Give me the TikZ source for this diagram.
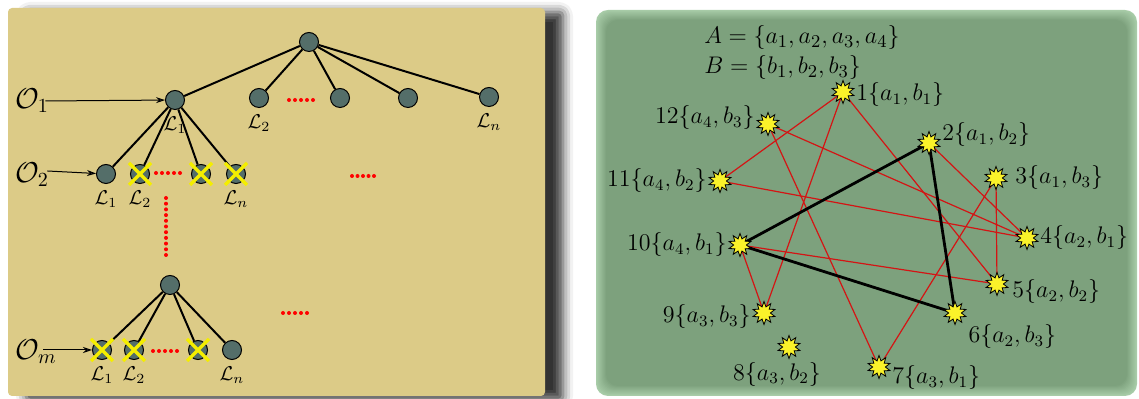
\documentclass[tikz,border=0pt]{standalone}
\usetikzlibrary{arrows.meta,shapes.geometric,shadows.blur,calc,backgrounds}
\definecolor{tanbg}{HTML}{DCCB87}
\definecolor{greenbg}{HTML}{7DA17D}
\definecolor{greenrim}{HTML}{A8CCA8}
\definecolor{nodefill}{HTML}{546E69}
\definecolor{linkred}{HTML}{D41414}
\definecolor{xyellow}{HTML}{F4EE00}
\definecolor{staryellow}{HTML}{FAF22A}
\pgfdeclarelayer{panel}
\pgfsetlayers{panel,background,main}

\begin{document}
\begin{tikzpicture}[
  x=0.5pt, y=-0.5pt,
  tnode/.style={circle, draw=black, line width=0.5pt, fill=nodefill,
                minimum size=9.5pt, inner sep=0pt},
  lname/.style={font=\normalsize, inner sep=1pt},
  xmark/.style={draw=xyellow, line width=1.6pt},
  tlink/.style={line width=1pt},
  olink/.style={-{Stealth[length=4.5pt,width=3pt]}, line width=0.5pt},
  oname/.style={font=\Large, inner sep=1pt},
  snode/.style={star, star points=10, star point ratio=1.8, minimum size=11.5pt,
                inner sep=0pt, fill=staryellow, draw=black, line width=0.4pt},
  slbl/.style={font=\large, inner sep=1pt},
  setlbl/.style={font=\fontsize{13pt}{13pt}\selectfont, inner sep=0pt, anchor=base west},
  rlink/.style={draw=linkred, line width=0.6pt},
  blink/.style={draw=black, line width=1.4pt},
  label distance=2pt,
]
\useasboundingbox (0,0) rectangle (1139,399);

% ---- panels ----
\begin{pgfonlayer}{panel}
\fill[tanbg, rounded corners=2pt,
      blur shadow={shadow xshift=9pt, shadow yshift=-2pt, shadow blur radius=5pt,
                   shadow opacity=80}]
  (8,8) rectangle (545,396);
\foreach \k in {0,...,10}
  \pgfmathsetmacro{\p}{\k*10}
  \fill[greenbg!\p!greenrim, rounded corners=6pt]
    (596+\k,10+\k) rectangle (1137-\k,396-\k);
\end{pgfonlayer}

% ---- left panel: first tree ----
\node[tnode] (r0) at (309,42) {};
\node[tnode, label={[lname]below:$\mathcal{L}_1$}] (a1) at (175,100) {};
\node[tnode, label={[lname]below:$\mathcal{L}_2$}] (a2) at (259,98) {};
\node[tnode] (a3) at (340,98) {};
\node[tnode] (a4) at (408,98) {};
\node[tnode, label={[lname]below:$\mathcal{L}_n$}] (a5) at (489,97) {};

\node[tnode, label={[lname]below:$\mathcal{L}_1$}] (b1) at (106,174) {};
\node[tnode, label={[lname]below:$\mathcal{L}_2$}] (b2) at (140,174) {};
\node[tnode] (b3) at (201,174) {};
\node[tnode, label={[lname]below:$\mathcal{L}_n$}] (b4) at (236,174) {};

% ---- left panel: last tree ----
\node[tnode] (c0) at (170,285) {};
\node[tnode, label={[lname]below:$\mathcal{L}_1$}] (c1) at (102,350) {};
\node[tnode, label={[lname]below:$\mathcal{L}_2$}] (c2) at (134,350) {};
\node[tnode] (c3) at (198,350) {};
\node[tnode, label={[lname]below:$\mathcal{L}_n$}] (c4) at (232,350) {};

\foreach \n in {a1,a2,a3,a4,a5}
  \draw[tlink] (r0) -- (\n);
\foreach \n in {b1,b2,b3,b4}
  \draw[tlink] (a1) -- (\n);
\foreach \n in {c1,c2,c3,c4}
  \draw[tlink] (c0) -- (\n);

% crossed out leaves
\foreach \n in {b2,b3,b4,c1,c2,c3}
  \draw[xmark] ($(\n)+(-11,-11)$) -- ($(\n)+(11,11)$)
               ($(\n)+(-11,11)$) -- ($(\n)+(11,-11)$);

% object labels
\node[oname] (o1) at (32,101) {$\mathcal{O}_1$};
\node[oname] (o2) at (32,175) {$\mathcal{O}_2$};
\node[oname] (om) at (36,352) {$\mathcal{O}_m$};
\draw[olink] ([xshift=-3pt]o1.east) -- (a1);
\draw[olink] ([xshift=-2pt,yshift=2pt]o2.east) -- (b1);
\draw[olink] ([xshift=-8pt,yshift=1pt]om.east) -- (c1);

% red dots
\foreach \x in {0,...,4} {
  \fill[red] (289+\x*6,100) circle (1pt);
  \fill[red] (156+\x*6,173) circle (1pt);
  \fill[red] (352+\x*5.5,176) circle (1pt);
  \fill[red] (153+\x*6,351) circle (1pt);
  \fill[red] (283+\x*6,313) circle (1pt);
}
\foreach \y in {0,...,10}
  \fill[red] (166,198+\y*5.7) circle (1pt);

% ---- right panel ----
\node[setlbl] (setA) at (704,44) {$A=\{a_1,a_2,a_3,a_4\}$};
\node[setlbl] (setB) at (704,74) {$B=\{b_1,b_2,b_3\}$};

\node[snode, label={[slbl,yshift=-1.5pt]right:$1\{a_1,b_1\}$}] (s1) at (843,92) {};
\node[snode, label={[slbl,yshift=3pt]left:$12\{a_4,b_3\}$}] (s12) at (768,124) {};
\node[snode, label={[slbl,yshift=4pt]right:$2\{a_1,b_2\}$}] (s2) at (929,143) {};
\node[snode, label={[slbl]left:$11\{a_4,b_2\}$}] (s11) at (720,181) {};
\node[snode, label={[slbl,label distance=5pt]right:$3\{a_1,b_3\}$}] (s3) at (996,178) {};
\node[snode, label={[slbl]left:$10\{a_4,b_1\}$}] (s10) at (740,245) {};
\node[snode, label={[slbl]right:$4\{a_2,b_1\}$}] (s4) at (1027,238) {};
\node[snode, label={[slbl,label distance=3pt,yshift=-4pt]right:$5\{a_2,b_2\}$}] (s5) at (997,284) {};
\node[snode, label={[slbl,yshift=-2pt]left:$9\{a_3,b_3\}$}] (s9) at (764,313) {};
\node[snode, label={[slbl,xshift=1pt]below right:$6\{a_2,b_3\}$}] (s6) at (955,313) {};
\node[snode, label={[slbl,xshift=-6pt,label distance=0pt]below:$8\{a_3,b_2\}$}] (s8) at (789,347) {};
\node[snode, label={[slbl,yshift=-5.5pt]right:$7\{a_3,b_1\}$}] (s7) at (879,367) {};

\begin{scope}[on background layer]
\foreach \u/\v in {s1/s11, s1/s9, s1/s5, s12/s4, s12/s7, s11/s4,
                   s2/s4, s3/s5, s3/s7, s10/s9, s10/s5}
  \draw[rlink] (\u.center) -- (\v.center);
\foreach \u/\v in {s2/s10, s2/s6, s10/s6}
  \draw[blink] (\u.center) -- (\v.center);
\end{scope}
\end{tikzpicture}
\end{document}
